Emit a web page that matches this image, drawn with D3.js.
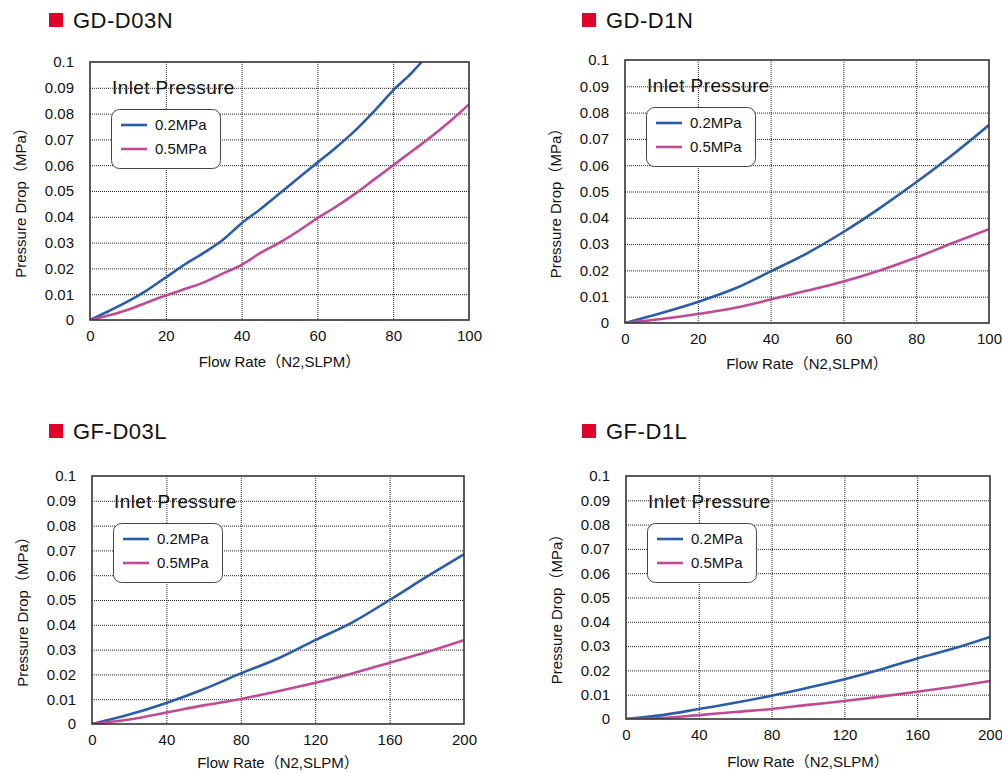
<!DOCTYPE html>
<html>
<head>
<meta charset="utf-8">
<script src="https://cdn.jsdelivr.net/npm/d3@7"></script>
<style>
  body { margin: 0; background: #fff; }
  svg text { font-family: "Liberation Sans", Arial, "Noto Sans CJK JP", sans-serif; fill: #111; }
</style>
</head>
<body>
<svg id="chart" width="1002" height="773"></svg>
<script>
// chart data
var titles = ["GD-D03N", "GD-D1N", "GF-D03L", "GF-D1L"];
var seriesNames = ["0.2MPa", "0.5MPa"];
var yTicks = [0, 0.01, 0.02, 0.03, 0.04, 0.05, 0.06, 0.07, 0.08, 0.09, 0.1];
var xTicks100 = [0, 20, 40, 60, 80, 100];
var xTicks200 = [0, 40, 80, 120, 160, 200];

// GD-D03N
var d03nFlowBlue = [0, 5, 10, 15, 20, 25, 30, 35, 40, 45, 50, 55, 60, 65, 70, 75, 80, 85, 87.5];
var d03nBlue = [0, 0.0035, 0.0072, 0.0115, 0.0165, 0.0215, 0.026, 0.031, 0.0375, 0.043, 0.049, 0.055, 0.061, 0.067, 0.0735, 0.081, 0.089, 0.096, 0.1];
var d03nFlowPink = [0, 5, 10, 15, 20, 25, 30, 35, 40, 45, 50, 55, 60, 65, 70, 75, 80, 85, 90, 95, 100];
var d03nPink = [0, 0.0018, 0.004, 0.0068, 0.0095, 0.012, 0.0146, 0.018, 0.0214, 0.026, 0.030, 0.0345, 0.0395, 0.044, 0.049, 0.0545, 0.060, 0.0655, 0.071, 0.077, 0.0836];

// GD-D1N
var d1nFlow = [0, 10, 20, 30, 40, 50, 60, 70, 80, 90, 100];
var d1nBlue = [0, 0.0038, 0.008, 0.013, 0.0196, 0.0265, 0.0346, 0.0437, 0.0535, 0.064, 0.0753];
var d1nPink = [0, 0.0015, 0.0034, 0.0057, 0.0089, 0.0123, 0.0158, 0.020, 0.0249, 0.0304, 0.0357];

// GF-D03L
var d03lFlow = [0, 20, 40, 60, 80, 100, 120, 140, 160, 180, 200];
var d03lBlue = [0, 0.0038, 0.0085, 0.014, 0.0204, 0.0264, 0.0338, 0.041, 0.050, 0.0594, 0.0685];
var d03lPink = [0, 0.0018, 0.0046, 0.0075, 0.0101, 0.0132, 0.0166, 0.0204, 0.0247, 0.029, 0.0338];

// GF-D1L
var d1lFlow = [0, 20, 40, 60, 80, 100, 120, 140, 160, 180, 200];
var d1lBlue = [0, 0.0016, 0.0041, 0.0067, 0.0096, 0.0129, 0.0164, 0.0204, 0.0249, 0.029, 0.0338];
var d1lPink = [0, 0.0004, 0.0016, 0.0029, 0.0041, 0.0058, 0.0074, 0.0092, 0.0112, 0.0133, 0.0156];

var colors = ["#2b5ca8", "#c04a94"];

// plot boxes on the page
var panels = [
  {left: 90,  right: 469, top: 62,  bottom: 320, titleY: 13,  sqX: 49,  xMax: 100, xTicks: xTicks100, xtY: 47,
   series: [[d03nFlowBlue, d03nBlue], [d03nFlowPink, d03nPink]]},
  {left: 625, right: 989, top: 60,  bottom: 323, titleY: 13,  sqX: 582, xMax: 100, xTicks: xTicks100, xtY: 46,
   series: [[d1nFlow, d1nBlue], [d1nFlow, d1nPink]]},
  {left: 92,  right: 464, top: 476, bottom: 724, titleY: 424, sqX: 49,  xMax: 200, xTicks: xTicks200, xtY: 44,
   series: [[d03lFlow, d03lBlue], [d03lFlow, d03lPink]]},
  {left: 626, right: 990, top: 476, bottom: 719, titleY: 424, sqX: 582, xMax: 200, xTicks: xTicks200, xtY: 48,
   series: [[d1lFlow, d1lBlue], [d1lFlow, d1lPink]]}
];

var svg = d3.select("#chart");

panels.forEach(function(p, i) {
  var w = p.right - p.left, h = p.bottom - p.top;
  var x = d3.scaleLinear().domain([0, p.xMax]).range([0, w]);
  var y = d3.scaleLinear().domain([0, 0.1]).range([h, 0]);

  // title with red square
  svg.append("rect").attr("x", p.sqX).attr("y", p.titleY).attr("width", 14).attr("height", 14).attr("fill", "#e0002a");
  svg.append("text").attr("x", p.sqX + 24).attr("y", p.titleY + 15)
    .style("font-size", "22px").style("letter-spacing", "0.5px").text(titles[i]);

  var g = svg.append("g").attr("transform", "translate(" + p.left + "," + p.top + ")");

  g.append("clipPath").attr("id", "clip" + i)
    .append("rect").attr("width", w).attr("height", h);

  // dotted grid
  g.selectAll(".hgrid").data(yTicks.slice(1, -1)).enter().append("line")
    .attr("x1", 0).attr("x2", w)
    .attr("y1", function(d) { return y(d) + 0.5; }).attr("y2", function(d) { return y(d) + 0.5; })
    .attr("stroke", "#222").attr("stroke-width", 1).attr("stroke-dasharray", "1,1");
  g.selectAll(".vgrid").data(p.xTicks.slice(1, -1)).enter().append("line")
    .attr("y1", 0).attr("y2", h)
    .attr("x1", function(d) { return x(d) + 0.5; }).attr("x2", function(d) { return x(d) + 0.5; })
    .attr("stroke", "#222").attr("stroke-width", 1).attr("stroke-dasharray", "1,1");

  // axes (labels only)
  var ya = g.append("g").call(d3.axisLeft(y).tickValues(yTicks).tickSize(0).tickPadding(16)
    .tickFormat(function(d) { return String(+d.toFixed(2)); }));
  ya.select(".domain").remove();
  ya.selectAll("text").style("font-size", "15px").style("font-family", "Liberation Sans, Arial, sans-serif").attr("fill", "#111");

  var xa = g.append("g").attr("transform", "translate(0," + h + ")")
    .call(d3.axisBottom(x).tickValues(p.xTicks).tickSize(0).tickPadding(10));
  xa.select(".domain").remove();
  xa.selectAll("text").style("font-size", "15px").style("font-family", "Liberation Sans, Arial, sans-serif").attr("fill", "#111");

  // axis titles
  g.append("text").attr("x", w / 2).attr("y", h + p.xtY).attr("text-anchor", "middle")
    .style("font-size", "15px").text("Flow Rate（N2,SLPM）");
  g.append("text").attr("transform", "translate(" + (-64) + "," + (h / 2 + 8) + ") rotate(-90)")
    .attr("text-anchor", "middle").style("font-size", "15px").text("Pressure Drop（MPa）");

  // curves
  var line = d3.line().curve(d3.curveMonotoneX)
    .x(function(d) { return x(d[0]); }).y(function(d) { return y(d[1]); });
  p.series.forEach(function(s, k) {
    var pts = s[0].map(function(f, j) { return [f, s[1][j]]; });
    g.append("path").attr("d", line(pts)).attr("fill", "none")
      .attr("stroke", colors[k]).attr("stroke-width", 2.6)
      .attr("clip-path", "url(#clip" + i + ")");
  });

  // plot frame
  g.append("rect").attr("width", w).attr("height", h).attr("fill", "none")
    .attr("stroke", "#333").attr("stroke-width", 1.6);

  // legend
  g.append("text").attr("x", 22).attr("y", 32).style("font-size", "19px").style("letter-spacing", "0.4px").text("Inlet Pressure");
  g.append("rect").attr("x", 21.5).attr("y", 47.5).attr("width", 109).attr("height", 59)
    .attr("rx", 8).attr("fill", "#fff").attr("stroke", "#444").attr("stroke-width", 1);
  seriesNames.forEach(function(name, k) {
    var ly = 63 + k * 24;
    g.append("line").attr("x1", 31).attr("x2", 57).attr("y1", ly).attr("y2", ly)
      .attr("stroke", colors[k]).attr("stroke-width", 2.6);
    g.append("text").attr("x", 65).attr("y", ly + 5).style("font-size", "15px").text(name);
  });
});
</script>
</body>
</html>
